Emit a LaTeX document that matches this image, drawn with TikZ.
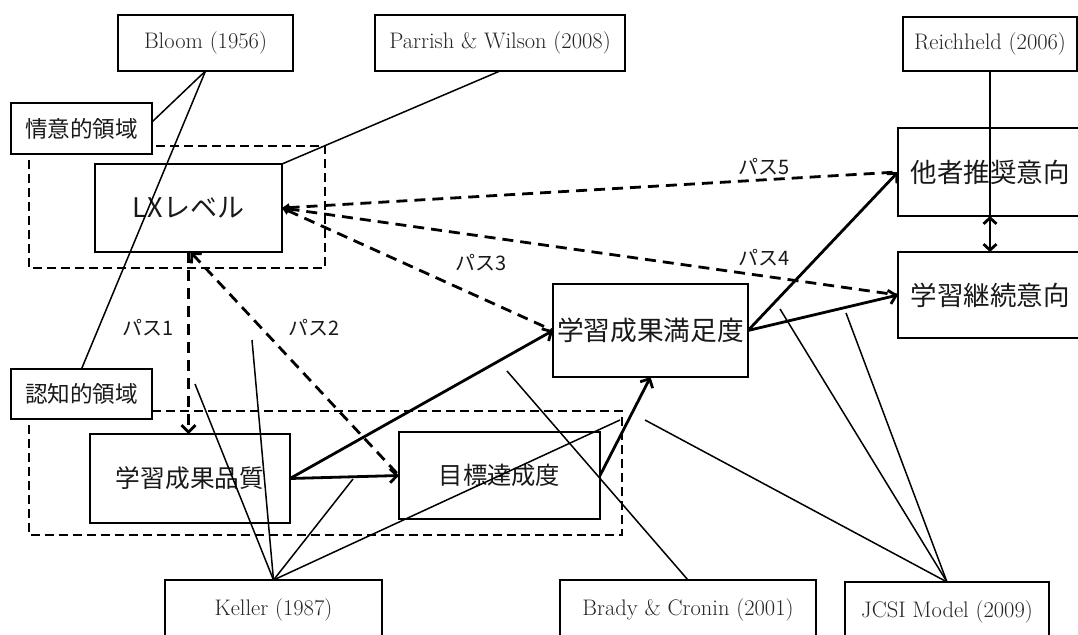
\documentclass[tikz,border=0pt]{standalone}
\usepackage{fontspec}
\newfontfamily\jpfont{Noto Sans CJK JP}
\usetikzlibrary{arrows.meta,calc}

\begin{document}
\begin{tikzpicture}[x=1pt,y=-1pt,
  every node/.style={inner sep=0pt, outer sep=0pt},
  concept/.style={draw=black, line width=2.5pt, fill=white, text=black!90,
    font=\jpfont\fontsize{26.5}{30}\selectfont},
  domainlabel/.style={draw=black, line width=2.5pt, fill=white, text=black!90,
    font=\jpfont\fontsize{22.6}{26}\selectfont},
  source/.style={draw=black, line width=2.2pt, fill=white, text=black!85,
    font=\fontsize{22.5}{26}\selectfont},
  region/.style={draw=black, line width=2.5pt, dash pattern=on 9pt off 5pt},
  link/.style={line width=1.5pt},
  flow/.style={line width=2.8pt, -{Straight Barb[length=7pt,width=14pt]}},
  hyp/.style={line width=2.8pt, dash pattern=on 11pt off 7pt,
    -{Straight Barb[length=7pt,width=14pt]}},
  pathlabel/.style={font=\jpfont\fontsize{20}{23}\selectfont, text=black!90}]

\useasboundingbox (0,0) rectangle (1078,634);

% domain regions
\draw[region] (29,146) rectangle (325,268);
\draw[region] (29,411) rectangle (622,535);

% domain labels
\node[domainlabel, minimum width=141pt, minimum height=51pt] (affect) at (81.5,128.5) {情意的領域};
\node[domainlabel, minimum width=141pt, minimum height=50pt] (cognit) at (81.5,394) {認知的領域};

% constructs
\node[concept, minimum width=187pt, minimum height=88pt, font=\jpfont\fontsize{27}{30}\selectfont] (lx) at (188.5,208) {LXレベル};
\node[concept, minimum width=200pt, minimum height=89pt, font=\jpfont\fontsize{24.7}{28}\selectfont] (quality) at (190,478.5) {学習成果品質};
\node[concept, minimum width=201pt, minimum height=87pt, font=\jpfont\fontsize{24.3}{28}\selectfont] (goal) at (499.5,475.5) {目標達成度};
\node[concept, minimum width=195pt, minimum height=93pt, font=\jpfont\fontsize{26.7}{30}\selectfont] (satis) at (650.5,330.5) {学習成果満足度};
\node[concept, minimum width=184pt, minimum height=88pt] (recom) at (990,172) {他者推奨意向};
\node[concept, minimum width=184pt, minimum height=86pt] (cont) at (990,295) {学習継続意向};

% sources
\node[source, minimum width=175pt, minimum height=56pt] (bloom) at (205.5,43) {Bloom (1956)};
\node[source, minimum width=250pt, minimum height=56pt] (parrish) at (500,43) {Parrish \& Wilson (2008)};
\node[source, minimum width=174pt, minimum height=54pt] (reich) at (990,44) {Reichheld (2006)};
\node[source, minimum width=217pt, minimum height=60pt] (keller) at (273.5,610) {Keller (1987)};
\node[source, minimum width=256pt, minimum height=60pt] (brady) at (688,610) {Brady \& Cronin (2001)};
\node[source, minimum width=204pt, minimum height=60pt] (jcsi) at (947,612) {JCSI Model (2009)};

% hypothesised paths from the LX level
\draw[hyp] (lx.south) -- (lx.south |- quality.north);
\draw[hyp, {Straight Barb[length=7pt,width=14pt]}-] ([xshift=2pt]lx.south) -- (goal.west);
\draw[hyp, {Triangle[length=7pt,width=8pt]}-] (lx.east) -- (satis.west);
\draw[hyp, {Triangle[length=7pt,width=8pt]}-] (lx.east) -- (cont.west);
\draw[hyp, {Triangle[length=7pt,width=8pt]}-] (lx.east) -- (recom.west);

\node[pathlabel] (p1) at (148,328) {パス1};
\node[pathlabel] (p2) at (314,328) {パス2};
\node[pathlabel] (p3) at (481,263) {パス3};
\node[pathlabel] (p4) at (764,258) {パス4};
\node[pathlabel] (p5) at (764,167) {パス5};

% structural paths
\draw[flow] (quality.east) -- (satis.west);
\draw[flow] (quality.east) -- (goal.west);
\draw[flow] (goal.east) -- (satis.south);
\draw[flow] (satis.east) -- (recom.west);
\draw[flow] (satis.east) -- (cont.west);
\draw[line width=2.8pt, {Straight Barb[length=6pt,width=13pt]}-{Straight Barb[length=6pt,width=13pt]}] (recom.south) -- (cont.north);

% anchor points of the source references
\coordinate (k1) at (195,384);
\coordinate (k2) at (252,340);
\coordinate (k3) at (353,479);
\coordinate (k4) at (620,420);
\coordinate (b1) at (507,371);
\coordinate (j1) at (780,309);
\coordinate (j2) at (846,313);
\coordinate (j3) at (645,420);

% source references
\draw[link] (bloom.south) -- ([yshift=6.5pt]affect.east);
\draw[link] (bloom.south) -- (cognit.north);
\draw[link] (parrish.south) -- (lx.north east);
\draw[link] (reich.south) -- (cont.north);
\draw[link] (keller.north) -- (k1);
\draw[link] (keller.north) -- (k2);
\draw[link] (keller.north) -- (k3);
\draw[link] (keller.north) -- (k4);
\draw[link] (brady.north) -- (b1);
\draw[link] (jcsi.north) -- (j1);
\draw[link] (jcsi.north) -- (j2);
\draw[link] (jcsi.north) -- (j3);

\end{tikzpicture}
\end{document}
